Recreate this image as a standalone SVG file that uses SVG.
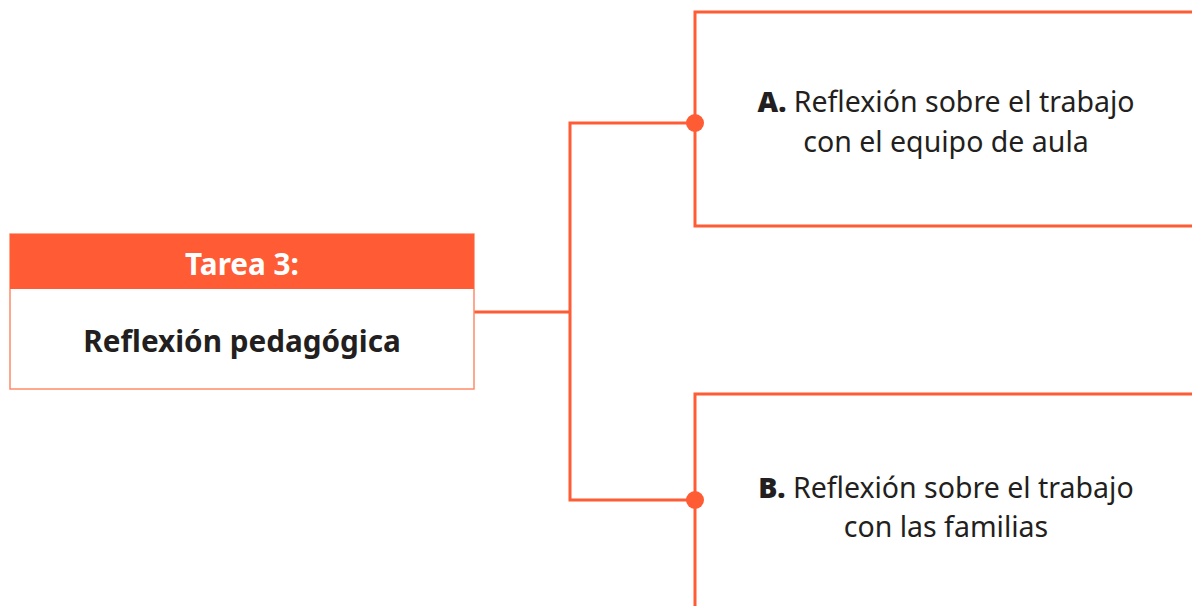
<svg xmlns="http://www.w3.org/2000/svg" width="1192" height="606" viewBox="0 0 1192 606">
<style>
.ln{fill:none;stroke:#FF5C35;stroke-width:3}
.dot{fill:#FF5C35}
.t{font-family:"Noto Sans","Liberation Sans",sans-serif;font-size:28.5px;fill:#231F20;text-anchor:middle}
.b{font-weight:900}
.h{font-family:"Noto Sans","Liberation Sans",sans-serif;font-size:29.7px;font-weight:bold;text-anchor:middle}
</style>
<rect width="1192" height="606" fill="#fff"/>
<g id="connectors">
<polyline class="ln" points="474,312 570,312"/>
<polyline class="ln" points="695,123 570,123 570,500 695,500"/>
<circle class="dot" cx="695" cy="123" r="9"/>
<circle class="dot" cx="695" cy="500" r="9"/>
</g>
<g id="tarea3">
<rect x="10" y="234" width="464" height="155" fill="#fff" stroke="#FF8A6A" stroke-width="1.5"/>
<rect x="10" y="234" width="464" height="55" fill="#FF5C35"/>
<text class="h" x="242" y="275" fill="#fff">Tarea 3:</text>
<text class="h" x="242" y="352" fill="#231F20">Reflexión pedagógica</text>
</g>
<g id="nodeA">
<polyline class="ln" points="1192,12 695,12 695,226 1192,226"/>
<text class="t" x="946" y="112"><tspan class="b">A.</tspan> Reflexión sobre el trabajo</text>
<text class="t" x="946" y="152">con el equipo de aula</text>
</g>
<g id="nodeB">
<polyline class="ln" points="1192,394 695,394 695,606"/>
<text class="t" x="946" y="498"><tspan class="b">B.</tspan> Reflexión sobre el trabajo</text>
<text class="t" x="946" y="537">con las familias</text>
</g>
</svg>
